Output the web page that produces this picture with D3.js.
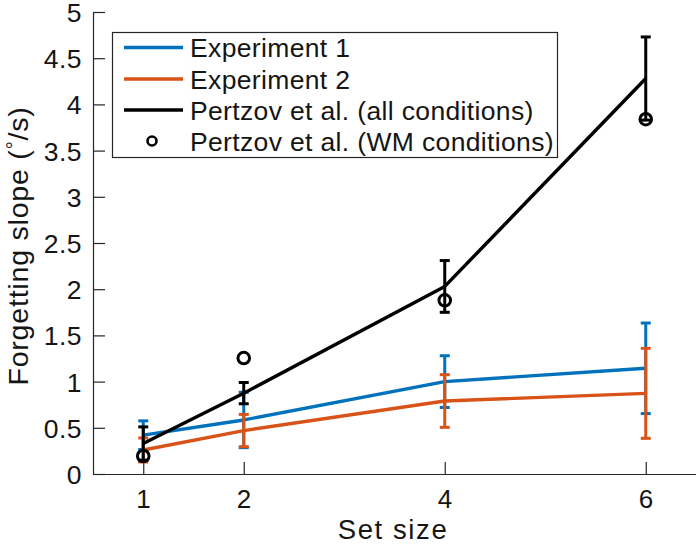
<!DOCTYPE html>
<html><head><meta charset="utf-8">
<script src="https://cdn.jsdelivr.net/npm/d3@7"></script>
<style>body{margin:0;background:#fff}text{font-family:"Liberation Sans",Arial,Helvetica,sans-serif;fill:#151515}</style>
</head><body><svg id="c" width="696" height="545"></svg>
<script>
const setSizes = [1, 2, 4, 6];
const exp1Mean = [0.42, 0.585, 1.0, 1.144];
const exp1Err  = [0.155, 0.30, 0.28, 0.49];
const exp2Mean = [0.26, 0.47, 0.79, 0.873];
const exp2Err  = [0.13, 0.175, 0.285, 0.487];
const pertzovAllMean = [0.33, 0.875, 2.03, 4.28];
const pertzovAllErr  = [0.18, 0.115, 0.28, 0.45];
const pertzovWM = [0.195, 1.255, 1.88, 3.84];
const yTicks = [0,0.5,1,1.5,2,2.5,3,3.5,4,4.5,5];
const xTicks = [1,2,4,6];
const legendLabels = ["Experiment 1","Experiment 2","Pertzov et al. (all conditions)","Pertzov et al. (WM conditions)"];

const svg = d3.select("#c");
const x = d3.scaleLinear().domain([0.5, 6.5]).range([93, 696]);
const y = d3.scaleLinear().domain([0, 5]).range([474, 12]);

// axes (MATLAB style inward ticks)
const yAxis = d3.axisLeft(y).tickValues(yTicks).tickSizeInner(-12).tickSizeOuter(0).tickPadding(11).tickFormat(d=>String(d));
const gy = svg.append("g").attr("transform","translate(93,0)").call(yAxis);
const xAxis = d3.axisBottom(x).tickValues(xTicks).tickSizeInner(-12).tickSizeOuter(0).tickPadding(16).tickFormat(d=>String(d));
const gx = svg.append("g").attr("transform","translate(0,474)").call(xAxis);
[gx, gy].forEach(g=>{
  g.selectAll("path,line").attr("stroke","#262626").attr("stroke-width",1.2);
  g.selectAll("text").attr("font-size",26.5).attr("font-family",'"Liberation Sans",Arial,sans-serif').style("fill","#151515").style("letter-spacing","0.5px");
});
gy.selectAll("text").attr("dy","0.36em");
gx.selectAll("text").attr("font-size",26);

// axis titles
svg.append("text").attr("x",393).attr("y",539.3).attr("text-anchor","middle").attr("font-size",27.5).style("letter-spacing","1.6px").text("Set size");
const yt = svg.append("text").attr("transform","translate(28,246) rotate(-90)").attr("text-anchor","middle").attr("font-size",28.5).style("letter-spacing","0.8px");
yt.append("tspan").text("Forgetting slope (");
yt.append("tspan").attr("dy",-7).attr("font-size",20).text("°");
yt.append("tspan").attr("dy",7).text("/s)");

const line = d3.line().x((d,i)=>x(setSizes[i])).y(d=>y(d));
function series(mean, err, color){
  const g = svg.append("g");
  const cap = 5;
  setSizes.forEach((s,i)=>{
    const xc = x(s), y1 = y(mean[i]+err[i]), y0 = y(mean[i]-err[i]);
    g.append("line").attr("x1",xc).attr("x2",xc).attr("y1",y1).attr("y2",y0).attr("stroke",color).attr("stroke-width",3);
    [y1,y0].forEach(yy=>g.append("line").attr("x1",xc-cap).attr("x2",xc+cap).attr("y1",yy).attr("y2",yy).attr("stroke",color).attr("stroke-width",3));
  });
  g.append("path").datum(mean).attr("d",line).attr("fill","none").attr("stroke",color).attr("stroke-width",3.4).attr("stroke-linejoin","round");
}
series(exp1Mean, exp1Err, "#0072BD");
series(exp2Mean, exp2Err, "#D95319");
series(pertzovAllMean, pertzovAllErr, "#000");
svg.append("g").selectAll("circle").data(pertzovWM).join("circle")
  .attr("cx",(d,i)=>x(setSizes[i])).attr("cy",d=>y(d)).attr("r",5.8)
  .attr("fill","none").attr("stroke","#000").attr("stroke-width",3);

// legend
const lg = svg.append("g");
lg.append("rect").attr("x",112.5).attr("y",32.5).attr("width",445).attr("height",125).attr("fill","#fff").attr("stroke","#262626").attr("stroke-width",1.2);
const rowY = [47.5, 79, 110, 141];
const cols = ["#0072BD","#D95319","#000"];
legendLabels.forEach((t,i)=>{
  if(i<3) lg.append("line").attr("x1",124).attr("x2",183).attr("y1",rowY[i]).attr("y2",rowY[i]).attr("stroke",cols[i]).attr("stroke-width",3.4);
  else lg.append("circle").attr("cx",152).attr("cy",rowY[i]).attr("r",4.5).attr("fill","none").attr("stroke","#000").attr("stroke-width",2.6);
  lg.append("text").attr("x",190).attr("y",rowY[i]).attr("dy","0.36em").attr("font-size",26.5).style("letter-spacing","0.35px").text(t);
});
</script></body></html>
